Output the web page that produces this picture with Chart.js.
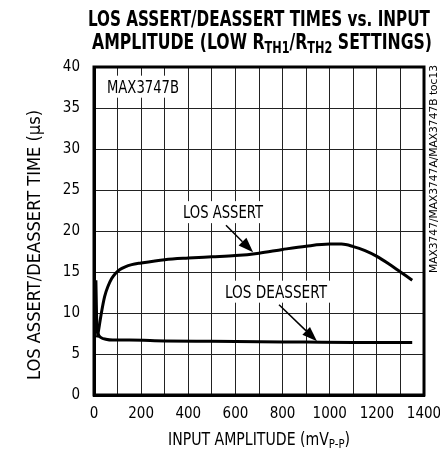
<!DOCTYPE html>
<html><head><meta charset="utf-8">
<script src="https://cdn.jsdelivr.net/npm/chart.js@4/dist/chart.umd.min.js"></script>
<style>html,body{margin:0;padding:0;background:#fff}#wrap{width:440px;height:456px;position:relative}</style>
</head><body><div id="wrap"><canvas id="c" width="440" height="456"></canvas></div>
<script>
// ---- data ----
const assertX = [14, 20, 30, 45, 60, 75, 90, 110, 130, 160, 200, 300, 400, 500, 600, 700, 800, 900, 1000, 1050, 1100, 1150, 1200, 1250, 1300, 1350];
const assertY = [7.0, 8.0, 9.8, 12.0, 13.3, 14.2, 14.8, 15.3, 15.6, 15.9, 16.1, 16.5, 16.7, 16.85, 17.0, 17.3, 17.75, 18.15, 18.4, 18.4, 18.1, 17.6, 16.9, 16.0, 15.0, 14.0];
const deassertX = [8, 10, 12, 18, 30, 50, 80, 150, 300, 500, 700, 900, 1100, 1350];
const deassertY = [14, 11, 8.5, 7.4, 7.0, 6.8, 6.7, 6.7, 6.6, 6.55, 6.5, 6.45, 6.4, 6.4];
const xTickLabels = [0, 200, 400, 600, 800, 1000, 1200, 1400];
const yTickLabels = [0, 5, 10, 15, 20, 25, 30, 35, 40];
const seriesNames = ['LOS ASSERT', 'LOS DEASSERT'];

const FONT = "'Liberation Sans Narrow','Arial Narrow','DejaVu Sans Condensed',sans-serif";

function pts(xs, ys) { return xs.map((x, i) => ({ x: x, y: ys[i] })); }

// annotations in data units
const notes = [
  { text: 'MAX3747B', x: 55, y: 37.6, align: 'left', w: 72 },
  { text: seriesNames[0], x: 547, y: 22.3, align: 'center', w: 80, arrow: [560, 20.7, 675, 17.4] },
  { text: seriesNames[1], x: 772, y: 12.6, align: 'center', w: 102, arrow: [785, 11.0, 946, 6.55] }
];

function drawSegments(ctx, segs, size, bold, cx, by, targetW, rot) {
  ctx.save();
  const f = (s) => (bold ? 'bold ' : '') + s + 'px ' + FONT;
  let w = 0;
  segs.forEach(s => { ctx.font = f(s.sub ? size * 0.72 : size); s.w = ctx.measureText(s.t).width; w += s.w; });
  const sx = targetW ? targetW / w : 1;
  ctx.translate(cx, by);
  if (rot) ctx.rotate(rot);
  ctx.scale(sx, 1);
  let x = -w / 2;
  ctx.fillStyle = '#000';
  ctx.textBaseline = 'alphabetic';
  ctx.textAlign = 'left';
  segs.forEach(s => {
    ctx.font = f(s.sub ? size * 0.72 : size);
    ctx.fillText(s.t, x, s.sub ? size * 0.18 : 0);
    x += s.w;
  });
  ctx.restore();
}

const decor = {
  id: 'decor',
  beforeDatasetsDraw(chart) {
    const ctx = chart.ctx, xs = chart.scales.x, ys = chart.scales.y;
    notes.forEach(n => {
      const px = xs.getPixelForValue(n.x), py = ys.getPixelForValue(n.y);
      const left = n.align === 'left' ? px : px - n.w / 2;
      ctx.save();
      ctx.fillStyle = '#fff';
      ctx.fillRect(left - 4, py - 11, n.w + 8, 22);
      ctx.restore();
      drawSegments(ctx, [{ t: n.text }], 17, false, left + n.w / 2, py + 6, n.w);
      if (n.arrow) {
        const x1 = xs.getPixelForValue(n.arrow[0]), y1 = ys.getPixelForValue(n.arrow[1]);
        const x2 = xs.getPixelForValue(n.arrow[2]), y2 = ys.getPixelForValue(n.arrow[3]);
        const a = Math.atan2(y2 - y1, x2 - x1), L = 15, W = 5.5;
        const bx = x2 - L * Math.cos(a), by = y2 - L * Math.sin(a);
        ctx.save();
        ctx.strokeStyle = '#000'; ctx.fillStyle = '#000'; ctx.lineWidth = 1.5;
        ctx.beginPath(); ctx.moveTo(x1, y1); ctx.lineTo(bx, by); ctx.stroke();
        ctx.beginPath();
        ctx.moveTo(x2, y2);
        ctx.lineTo(bx + W * Math.sin(a), by - W * Math.cos(a));
        ctx.lineTo(bx - W * Math.sin(a), by + W * Math.cos(a));
        ctx.closePath(); ctx.fill();
        ctx.restore();
      }
    });
  },
  afterDraw(chart) {
    const ctx = chart.ctx, a = chart.chartArea;
    ctx.save();
    ctx.strokeStyle = '#000'; ctx.lineWidth = 3;
    ctx.strokeRect(a.left, a.top, a.right - a.left, a.bottom - a.top);
    ctx.restore();
    drawSegments(ctx, [{ t: 'LOS ASSERT/DEASSERT TIMES ' }, { t: 'vs.' }, { t: ' INPUT' }], 21, true, 259, 26, 342);
    drawSegments(ctx, [{ t: 'AMPLITUDE (LOW R' }, { t: 'TH1', sub: true }, { t: '/R' }, { t: 'TH2', sub: true }, { t: ' SETTINGS)' }], 21, true, 262, 49, 340);
    drawSegments(ctx, [{ t: 'INPUT AMPLITUDE (mV' }, { t: 'P-P', sub: true }, { t: ')' }], 17, false, 259, 445, 182);
    drawSegments(ctx, [{ t: 'LOS ASSERT/DEASSERT TIME (\u00b5s)' }], 17, false, 40, 245, 270, -Math.PI / 2);
    drawSegments(ctx, [{ t: 'MAX3747/MAX3747A/MAX3747B toc13' }], 10, false, 437, 169, 208, -Math.PI / 2);
  }
};

new Chart(document.getElementById('c'), {
  type: 'line',
  data: {
    datasets: [
      { label: seriesNames[0], data: pts(assertX, assertY), borderColor: '#000', borderWidth: 3, pointRadius: 0, fill: false, cubicInterpolationMode: 'monotone' },
      { label: seriesNames[1], data: pts(deassertX, deassertY), borderColor: '#000', borderWidth: 3, pointRadius: 0, fill: false, cubicInterpolationMode: 'monotone' }
    ]
  },
  options: {
    responsive: false,
    animation: false,
    devicePixelRatio: 1,
    layout: { padding: { left: 0, right: 16, top: 67, bottom: 0 } },
    plugins: { legend: { display: false }, title: { display: false }, tooltip: { enabled: false } },
    scales: {
      x: {
        type: 'linear', min: 0, max: 1400,
        afterFit(s) { s.height = 61; s.paddingLeft = 0; s.paddingRight = 0; },
        afterBuildTicks(s) { s.ticks = []; for (let v = 0; v <= 1400; v += 100) s.ticks.push({ value: v }); },
        ticks: { autoSkip: false, maxRotation: 0, padding: 10, color: '#000', font: { family: FONT, size: 15 },
          callback: (v) => xTickLabels.includes(v) ? String(v) : '' },
        grid: { color: '#222', lineWidth: 1, drawTicks: false },
        border: { display: true, color: '#000', width: 3 }
      },
      y: {
        min: 0, max: 40,
        afterFit(s) { s.width = 94; s.paddingTop = 0; s.paddingBottom = 0; },
        afterBuildTicks(s) { s.ticks = yTickLabels.map(v => ({ value: v })); },
        ticks: { padding: 14, color: '#000', font: { family: FONT, size: 15 } },
        grid: { color: '#222', lineWidth: 1, drawTicks: false },
        border: { display: true, color: '#000', width: 3 }
      }
    }
  },
  plugins: [decor]
});
</script></body></html>
